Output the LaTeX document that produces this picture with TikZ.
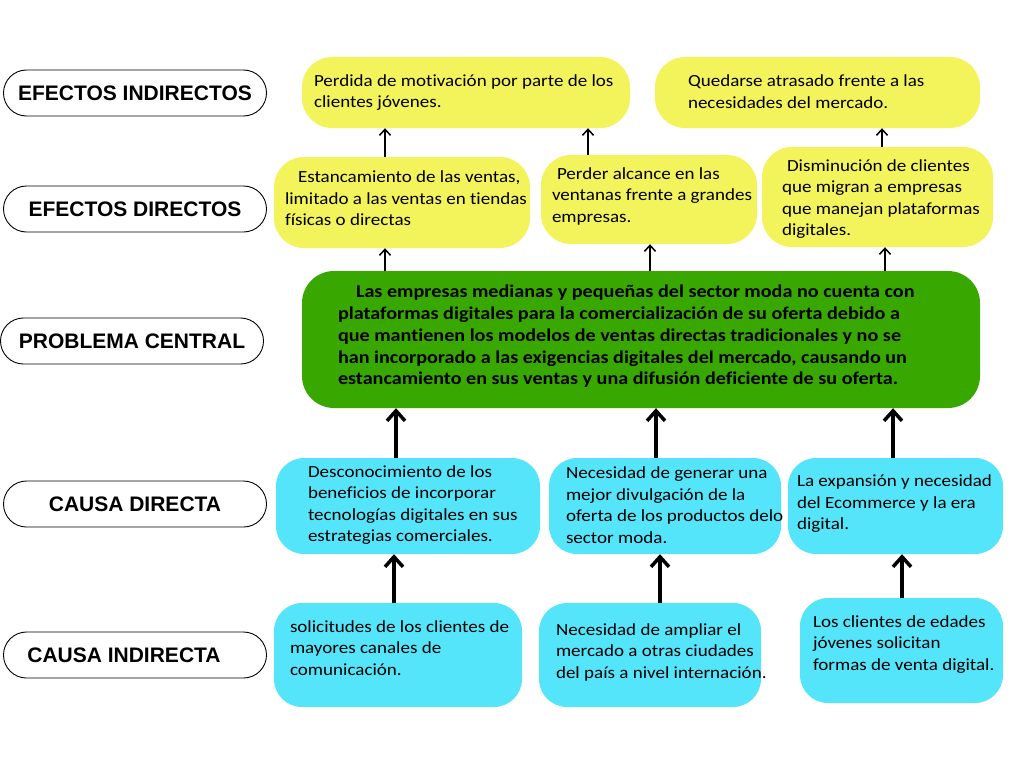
\documentclass[tikz,border=0pt]{standalone}
\usepackage{fontspec}
\setmainfont{Carlito}[FakeStretch=1.12,Ligatures=NoCommon]
\newfontfamily\tagfont{Liberation Sans}
\usetikzlibrary{arrows.meta}
\definecolor{effyellow}{RGB}{243,243,92}
\definecolor{probgreen}{RGB}{56,168,0}
\definecolor{causecyan}{RGB}{84,229,250}
\tikzset{
  tagbox/.style={draw, line width=0.9pt, rounded corners=23pt, minimum width=263pt,
    minimum height=46pt, inner sep=0pt, font=\tagfont\bfseries\fontsize{21}{24}\selectfont},
  txt/.style={align=left, inner sep=0pt, anchor=west, yshift=-2pt, font=\fontsize{17}{21.5}\selectfont},
  boldtxt/.style={txt, font=\bfseries\fontsize{18}{21.75}\selectfont},
  ybox/.style={fill=effyellow, rounded corners=30pt},
  cbox/.style={fill=causecyan, rounded corners=28pt},
  gbox/.style={fill=probgreen, rounded corners=32pt},
  thinarr/.style={-{Straight Barb[length=6pt,width=11pt]}, line width=1.5pt},
  thickarr/.style={-{Straight Barb[length=10pt,width=18pt]}, line width=3.5pt},
}
\begin{document}
\begin{tikzpicture}[x=1pt,y=-1pt]
  \useasboundingbox (0,0) rectangle (1024,768);

  % Row labels
  \node[tagbox] (efind) at (135,93) {EFECTOS INDIRECTOS};
  \node[tagbox] (efdir) at (135,209) {EFECTOS DIRECTOS};
  \node[tagbox] (probc) at (132,341) {PROBLEMA CENTRAL};
  \node[tagbox] (caudir) at (135,504) {CAUSA DIRECTA};
  \node[tagbox] (cauind) at (135,655) {\hspace*{-22pt}CAUSA INDIRECTA};

  % Boxes
  % effects
  \node[ybox, minimum width=328pt, minimum height=71pt] (perdida) at (466,92.5) {};
  \node[ybox, minimum width=325pt, minimum height=71pt] (atraso) at (817.5,92.5) {};
  \node[ybox, minimum width=256pt, minimum height=91pt] (estanca) at (402,202.5) {};
  \node[ybox, minimum width=216pt, minimum height=89pt] (alcance) at (649,199.5) {};
  \node[ybox, minimum width=231pt, minimum height=100pt] (migra) at (877.5,197) {};
  % problem
  \node[gbox, minimum width=678pt, minimum height=137pt] (problema) at (641,339.5) {};
  % causes
  \node[cbox, minimum width=264pt, minimum height=96pt] (descono) at (408,506) {};
  \node[cbox, minimum width=232pt, minimum height=96pt] (divulga) at (665,506) {};
  \node[cbox, minimum width=215pt, minimum height=96pt] (ecomm) at (895.5,506) {};
  \node[cbox, minimum width=248pt, minimum height=104pt] (canales) at (398,655) {};
  \node[cbox, minimum width=222pt, minimum height=104pt] (ampliar) at (650,655) {};
  \node[cbox, minimum width=203pt, minimum height=105pt] (jovenes) at (901.5,650.5) {};

  % Texts
  \node[txt] (perdidaL) at ([xshift=12pt,yshift=2pt]perdida.west)
    {Perdida de motivación por parte de los\\clientes jóvenes.};
  \node[txt] (atrasoL) at ([xshift=33pt,yshift=3pt]atraso.west)
    {Quedarse atrasado frente a las\\necesidades del mercado.};
  \node[txt] (estancaL) at ([xshift=11pt,yshift=6pt]estanca.west)
    {\hspace*{13pt}Estancamiento de las ventas,\\limitado a las ventas en tiendas\\físicas o directas};
  \node[txt] (alcanceL) at ([xshift=11pt,yshift=5.5pt]alcance.west)
    {\hspace*{5pt}Perder alcance en las\\ventanas frente a grandes\\empresas.};
  \node[txt] (migraL) at ([xshift=20pt]migra.west)
    {\hspace*{5pt}Disminución de clientes\\que migran a empresas\\que manejan plataformas\\digitales.};
  \node[boldtxt] (problemaL) at ([xshift=36pt,yshift=5pt]problema.west)
    {\hspace*{18pt}Las empresas medianas y pequeñas del sector moda no cuenta con\\
     plataformas digitales para la comercialización de su oferta debido a\\
     que mantienen los modelos de ventas directas tradicionales y no se\\
     han incorporado a las exigencias digitales del mercado, causando un\\
     estancamiento en sus ventas y una difusión deficiente de su oferta.};
  \node[txt] (desconoL) at ([xshift=32pt,yshift=3pt]descono.west)
    {Desconocimiento de los\\beneficios de incorporar\\tecnologías digitales en sus\\estrategias comerciales.};
  \node[txt] (divulgaL) at ([xshift=17pt,yshift=3pt]divulga.west)
    {Necesidad de generar una\\mejor divulgación de la\\oferta de los productos delo\\sector moda.};
  \node[txt] (ecommL) at ([xshift=9pt,yshift=4pt]ecomm.west)
    {La expansión y necesidad\\del Ecommerce y la era\\digital.};
  \node[txt] (canalesL) at ([xshift=16pt,yshift=9pt]canales.west)
    {solicitudes de los clientes de\\mayores canales de\\comunicación.};
  \node[txt] (ampliarL) at ([xshift=17pt,yshift=5pt]ampliar.west)
    {Necesidad de ampliar el\\mercado a otras ciudades\\del país a nivel internación.};
  \node[txt] (jovenesL) at ([xshift=13pt,yshift=8pt]jovenes.west)
    {Los clientes de edades\\jóvenes solicitan\\formas de venta digital.};

  % Arrows between effects
  \draw[thinarr] ([xshift=-17pt]estanca.north) -- ([xshift=-17pt]estanca.north |- perdida.south);
  \draw[thinarr] ([xshift=-61pt]alcance.north) -- ([xshift=-61pt]alcance.north |- perdida.south);
  \draw[thinarr] ([xshift=4.5pt]migra.north) -- ([xshift=4.5pt]migra.north |- atraso.south);

  % Arrows from problem to effects
  \draw[thinarr] ([xshift=-17pt]estanca.south |- problema.north) -- ([xshift=-17pt]estanca.south);
  \draw[thinarr] ([xshift=1pt]alcance.south |- problema.north) -- ([xshift=1pt]alcance.south);
  \draw[thinarr] ([xshift=7.5pt]migra.south |- problema.north) -- ([xshift=7.5pt]migra.south);

  % Arrows from causes to problem
  \draw[thickarr] ([xshift=-12pt]descono.north) -- ([xshift=-12pt]descono.north |- problema.south);
  \draw[thickarr] ([xshift=-9pt]divulga.north) -- ([xshift=-9pt]divulga.north |- problema.south);
  \draw[thickarr] ([xshift=-2.5pt]ecomm.north) -- ([xshift=-2.5pt]ecomm.north |- problema.south);

  % Arrows from indirect to direct causes
  \draw[thickarr] ([xshift=-4pt]canales.north) -- ([xshift=-4pt]canales.north |- descono.south);
  \draw[thickarr] ([xshift=10pt]ampliar.north) -- ([xshift=10pt]ampliar.north |- divulga.south);
  \draw[thickarr] ([xshift=0.5pt]jovenes.north) -- ([xshift=0.5pt]jovenes.north |- ecomm.south);
\end{tikzpicture}
\end{document}
